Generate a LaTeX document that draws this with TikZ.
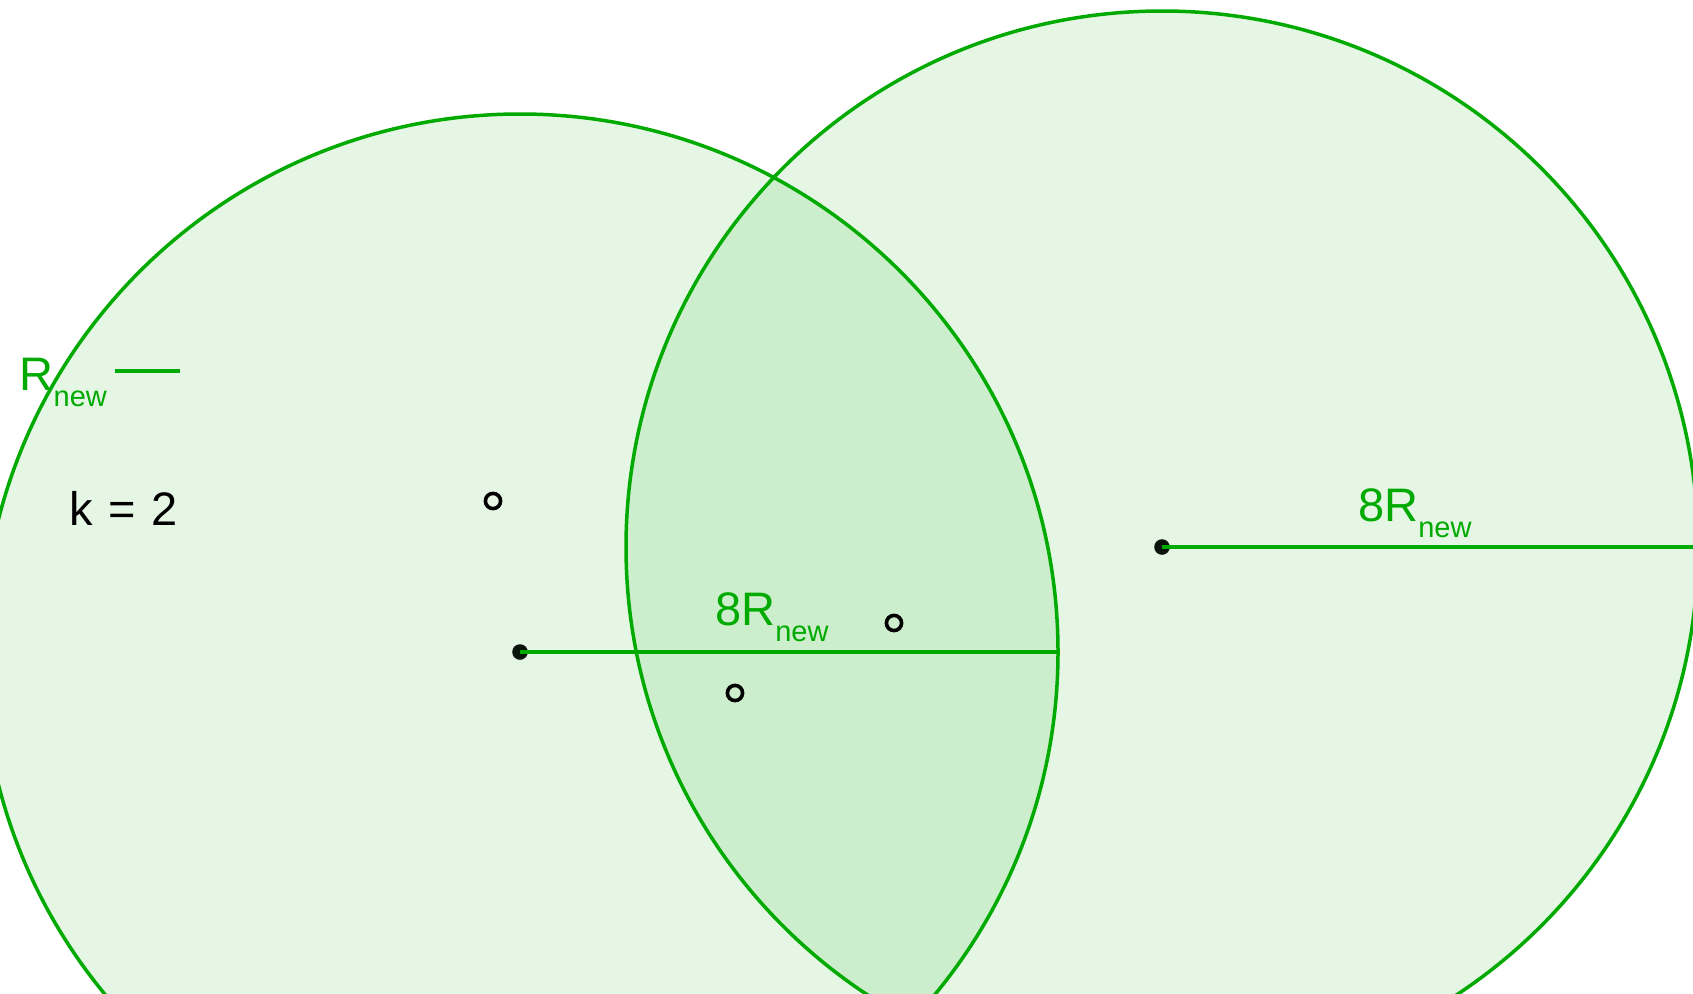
\documentclass[tikz,border=0pt]{standalone}
\usepackage{fontspec}
\setmainfont{Liberation Sans}
\definecolor{ggreen}{RGB}{0,170,0}
\definecolor{dotblack}{RGB}{10,20,10}
\tikzset{
  disc/.style={draw=ggreen, line width=3.5pt, fill=ggreen, fill opacity=0.1, draw opacity=1},
  radius seg/.style={draw=ggreen, line width=3.6pt},
  ptfull/.style={fill=dotblack},
  ptopen/.style={draw=black, line width=3.6pt},
  glabel/.style={text=ggreen, inner sep=0pt, anchor=base west},
  klabel/.style={text=black, inner sep=0pt, anchor=base west},
}
\newcommand{\bigtxt}{\fontsize{47}{47}\selectfont}
\newcommand{\subtxt}[1]{\raisebox{-16pt}{\fontsize{29}{29}\selectfont #1}}
\begin{document}
\begin{tikzpicture}[x=1pt,y=-1pt]
\useasboundingbox (0,0) rectangle (1693,993);
\clip (0,0) rectangle (1693,993);
\fill[white] (0,0) rectangle (1693,993);
% centres
\coordinate (c1) at (520,652);
\coordinate (c2) at (1162,547);
\coordinate (e1) at (1058,652);
\coordinate (e2) at (1700,547);
% discs
\draw[disc] (c1) circle (538);
\draw[disc] (c2) circle (536);
% centre dots
\fill[ptfull] (c1) circle (7.8);
\fill[ptfull] (c2) circle (7.8);
% radius segments
\draw[radius seg] (c1) -- (e1);
\draw[radius seg] (c2) -- (e2);
% open points
\draw[ptopen] (493,501) circle (7.6);
\draw[ptopen] (894,623) circle (7.6);
\draw[ptopen] (735,693) circle (7.6);
% labels
\node[glabel] (l1) at (715,625) {\bigtxt 8R\subtxt{new}};
\node[glabel] (l2) at (1358,521) {\bigtxt 8R\subtxt{new}};
\node[glabel] (l3) at (19.5,390) {\bigtxt R\subtxt{new}};
\coordinate (s1) at (115,371);
\coordinate (s2) at (180,371);
\draw[radius seg] (s1) -- (s2);
\node[klabel] (k) at (69,525) {\bigtxt k\hspace{2.5pt} =\hspace{2.5pt} 2};
\end{tikzpicture}
\end{document}
